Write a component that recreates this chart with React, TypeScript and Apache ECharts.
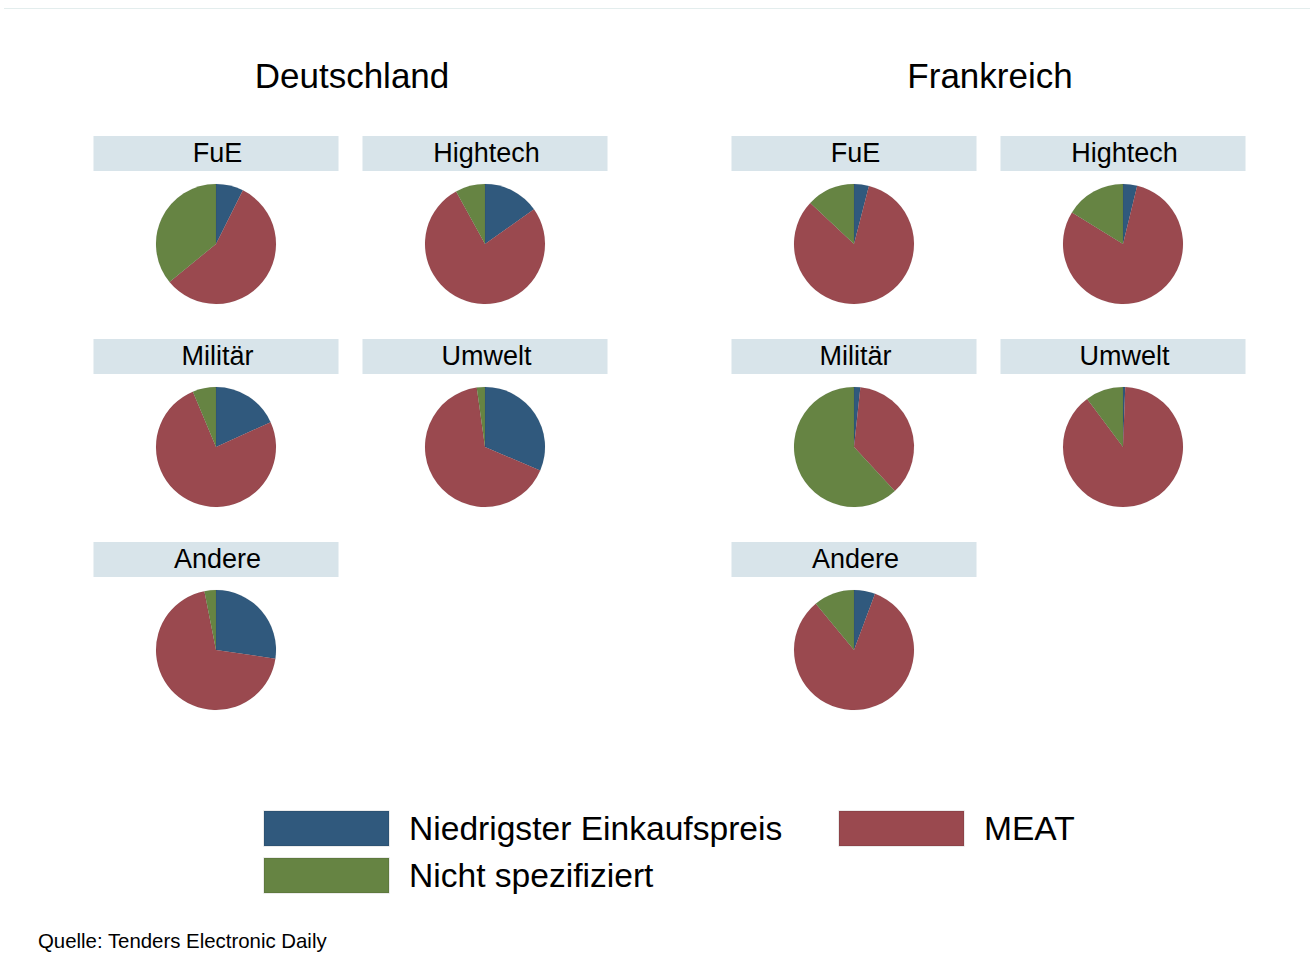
import React, { useEffect, useRef } from "react";
import * as echarts from "echarts";

const categories = ["Niedrigster Einkaufspreis", "MEAT", "Nicht spezifiziert"];
const colors = ["#30597d", "#9a494f", "#668443"];
const countries = ["Deutschland", "Frankreich"];
const panels = ["FuE", "Hightech", "Militär", "Umwelt", "Andere"];

// shares in percent: [Niedrigster, MEAT, Nicht spezifiziert]
const deutschland: number[][] = [
  [7.4, 56.7, 35.9],
  [15.2, 76.8, 8.0],
  [18.2, 75.5, 6.3],
  [31.4, 66.4, 2.2],
  [27.3, 69.6, 3.1],
];
const frankreich: number[][] = [
  [4.0, 83.0, 13.0],
  [3.8, 80.0, 16.2],
  [1.7, 36.4, 61.9],
  [0.6, 89.2, 10.2],
  [5.7, 83.3, 11.0],
];

const source = "Quelle: Tenders Electronic Daily";

export default function App() {
  const ref = useRef<HTMLDivElement>(null);
  useEffect(() => {
    if (!ref.current) return;
    const chart = echarts.init(ref.current, undefined, { renderer: "svg" });
    const font = "'Liberation Sans', Arial, sans-serif";
    const countryX = [352, 990];
    const colOffsets = [-136, 133];
    const rowY = [244, 447, 650];
    const series: any[] = [];
    const graphics: any[] = [
      {
        type: "line",
        shape: { x1: 4, y1: 8.5, x2: 1310, y2: 8.5 },
        style: { stroke: "#e3eded", lineWidth: 1 },
      },
    ];
    const allData = [deutschland, frankreich];
    countries.forEach((c, ci) => {
      graphics.push({
        type: "text",
        x: countryX[ci],
        y: 75.5,
        style: {
          text: c,
          font: `35px ${font}`,
          fill: "#000",
          align: "center",
          verticalAlign: "middle",
        },
      });
      panels.forEach((p, pi) => {
        const col = pi % 2;
        const row = Math.floor(pi / 2);
        const cx = countryX[ci] + colOffsets[col];
        const cy = rowY[row];
        graphics.push({
          type: "rect",
          shape: { x: cx - 122.5, y: cy - 108, width: 245, height: 35 },
          style: { fill: "#d8e4ea" },
        });
        graphics.push({
          type: "text",
          x: cx + 1.5,
          y: cy - 91,
          style: {
            text: p,
            font: `27px ${font}`,
            fill: "#000",
            align: "center",
            verticalAlign: "middle",
          },
        });
        series.push({
          type: "pie",
          name: `${c} ${p}`,
          center: [cx, cy],
          radius: 60,
          startAngle: 90,
          clockwise: true,
          silent: true,
          label: { show: false },
          labelLine: { show: false },
          itemStyle: { borderWidth: 0.6, borderColor: "rgba(0,0,0,0.08)" },
          data: categories.map((name, k) => ({
            name,
            value: allData[ci][pi][k],
            itemStyle: { color: colors[k] },
          })),
        });
      });
    });
    graphics.push({
      type: "text",
      x: 38,
      y: 941,
      style: {
        text: source,
        font: `20.4px ${font}`,
        fill: "#000",
        verticalAlign: "middle",
      },
    });
    const legendBase = {
      orient: "horizontal",
      padding: 0,
      icon: "rect",
      itemWidth: 125,
      itemHeight: 35,
      selectedMode: false,
      textStyle: {
        fontSize: 33.6,
        fontFamily: font,
        color: "#000",
        padding: [0, 0, 2, 15],
      },
    };
    chart.setOption({
      animation: false,
      backgroundColor: "#fff",
      color: colors,
      legend: [
        { ...legendBase, data: [categories[0]], left: 263, top: 810 },
        { ...legendBase, data: [categories[1]], left: 838, top: 810 },
        { ...legendBase, data: [categories[2]], left: 263, top: 857 },
      ],
      series,
      graphic: graphics,
    });
    return () => chart.dispose();
  }, []);
  return (
    <div
      ref={ref}
      style={{ position: "fixed", left: 0, top: 0, width: 1310, height: 963 }}
    />
  );
}
